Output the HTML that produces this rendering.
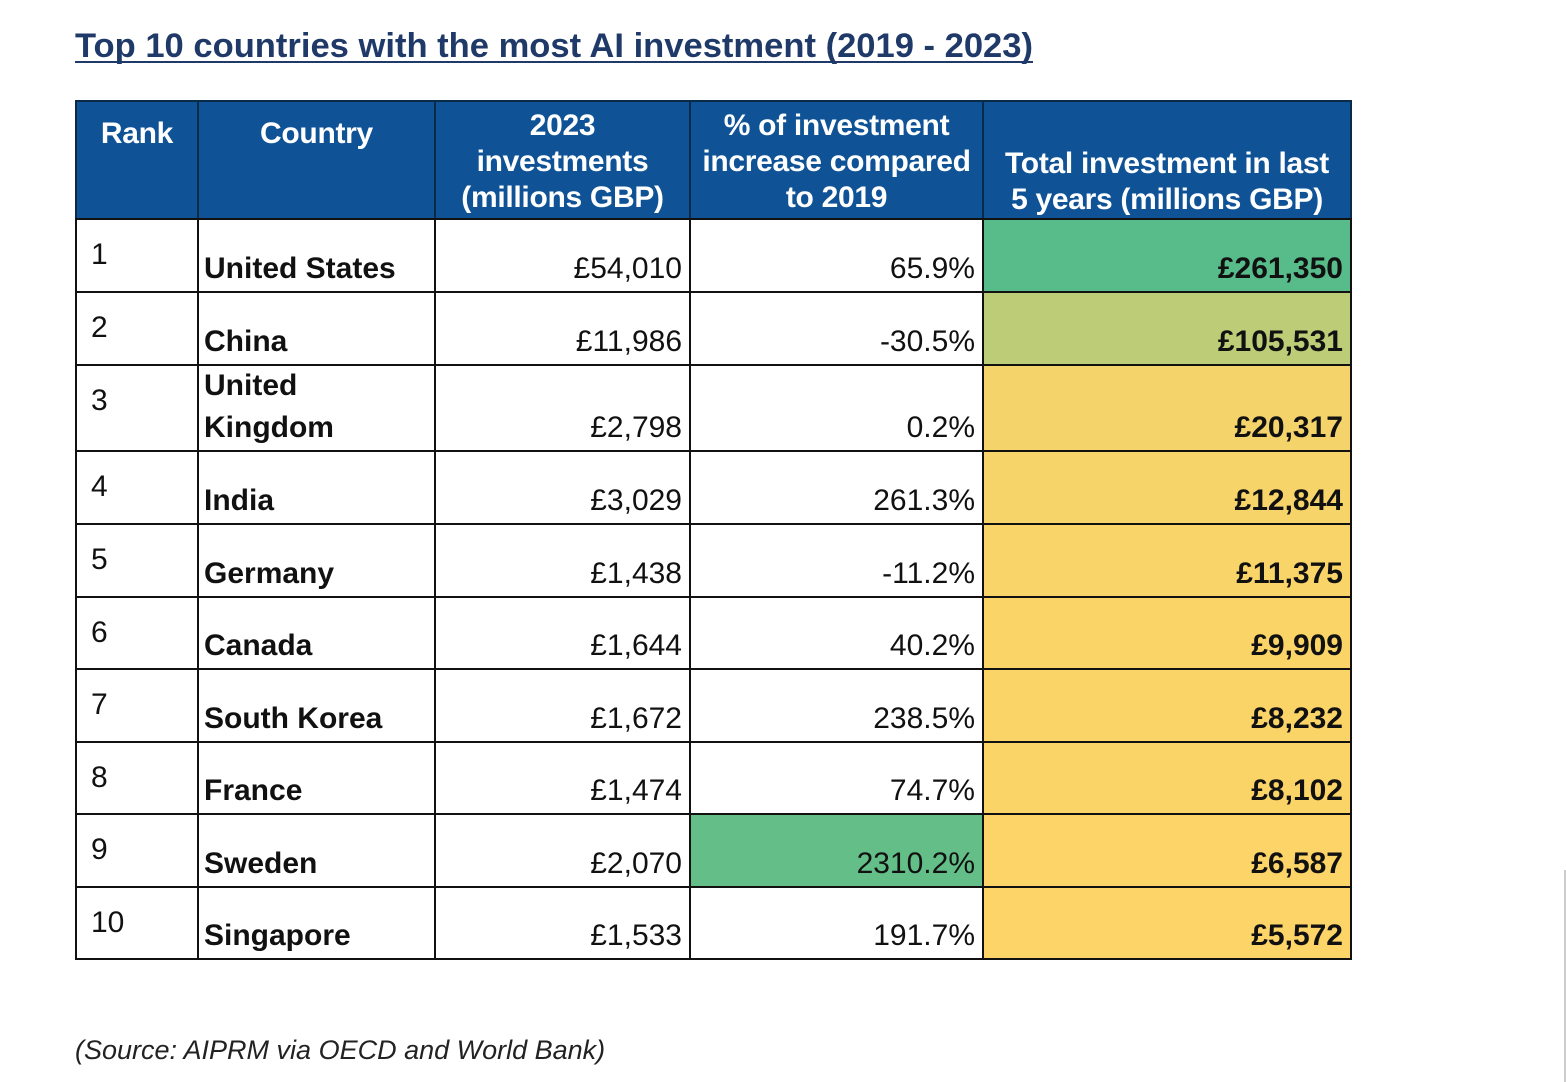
<!DOCTYPE html>
<html><head><meta charset="utf-8"><style>
body{margin:0;width:1566px;height:1082px;background:#fff;position:relative;overflow:hidden;font-family:"Liberation Sans",Arial,sans-serif}
.c{position:absolute;box-sizing:border-box;border:2px solid #111;}
.h{background:#0F5396;color:#fff;font-weight:bold;font-size:30px;text-align:center;line-height:36px;display:flex;align-items:center;justify-content:center;border-color:#0a2a4a;letter-spacing:-0.3px}
.t{position:absolute;font-size:30px;line-height:42px;white-space:nowrap;color:#111}
</style></head><body>
<svg style="position:absolute;left:0;top:0" width="1100" height="80"><text x="75" y="57" textLength="958" lengthAdjust="spacingAndGlyphs" font-family="Liberation Sans, sans-serif" font-weight="bold" font-size="34" fill="#1F3A68">Top 10 countries with the most AI investment (2019 - 2023)</text><line x1="75" y1="62" x2="1033" y2="62" stroke="#1F3A68" stroke-width="2"/></svg>
<div id="tbl"></div>
<div class="t" style="left:75px;top:1029px;font-style:italic;font-size:27px;color:#222">(Source: AIPRM via OECD and World Bank)</div>
<div style="position:absolute;left:1564px;top:870px;width:2px;height:212px;background:#ccc"></div>
<script>
const ranks=["1","2","3","4","5","6","7","8","9","10"];
const countries=["United States","China","United<br>Kingdom","India","Germany","Canada","South Korea","France","Sweden","Singapore"];
const inv2023=["£54,010","£11,986","£2,798","£3,029","£1,438","£1,644","£1,672","£1,474","£2,070","£1,533"];
const pct=["65.9%","-30.5%","0.2%","261.3%","-11.2%","40.2%","238.5%","74.7%","2310.2%","191.7%"];
const total=["£261,350","£105,531","£20,317","£12,844","£11,375","£9,909","£8,232","£8,102","£6,587","£5,572"];
const totalBg=["#57BB8A","#BDCC77","#F4D36B","#F7D46A","#F9D468","#FAD467","#FBD467","#FBD467","#FCD467","#FCD467"];
const cols=[75,197,434,689,982,1350];
const rows=[218,291,364,450,523,596,668,741,813,886,958];
const tb=document.getElementById('tbl');
const heads=["Rank","Country","2023<br>investments<br>(millions GBP)","% of investment<br>increase compared<br>to 2019","Total investment in last<br>5 years (millions GBP)"];
const hn=["rank-header","country-header","investment-2023-header","percent-increase-header","total-investment-header"];
for(let i=0;i<5;i++){
 const d=document.createElement('div');d.className='c h';
 
 
 let extra=i<2?'align-items:flex-start;padding-top:14px;':(i==4?'align-items:flex-end;padding-bottom:0px;':'padding-top:4px;');
 d.style.cssText=`left:${cols[i]}px;top:100px;width:${cols[i+1]-cols[i]+2}px;height:120px;`+extra;
 d.innerHTML=heads[i];tb.appendChild(d);
}
for(let r=0;r<10;r++){
 const top=rows[r],h=rows[r+1]-top;
 for(let i=0;i<5;i++){
  const d=document.createElement('div');d.className='c';
  
  
  let bg='#fff';if(i==4)bg=totalBg[r];if(i==3&&r==8)bg='#63BE88';
  d.style.cssText=`left:${cols[i]}px;top:${top}px;width:${cols[i+1]-cols[i]+2}px;height:${h+2}px;background:${bg};`;
  tb.appendChild(d);
  const t=document.createElement('div');t.className='t';
  
  
  if(i==0){t.style.left=(cols[0]+16)+'px';t.style.top=(top+16)+'px';t.innerHTML=ranks[r];}
  else{
   t.style.bottom=(1082-rows[r+1]+1)+'px';
   if(i==1){t.style.left=(cols[1]+7)+'px';t.style.fontWeight='bold';t.innerHTML=countries[r];}
   else{t.style.right=(1566-cols[i+1]+7)+'px';t.style.textAlign='right';
    t.innerHTML=i==2?inv2023[r]:i==3?pct[r]:total[r];if(i==4)t.style.fontWeight='bold';}
  }
  tb.appendChild(t);
 }
}
</script>
</body></html>
